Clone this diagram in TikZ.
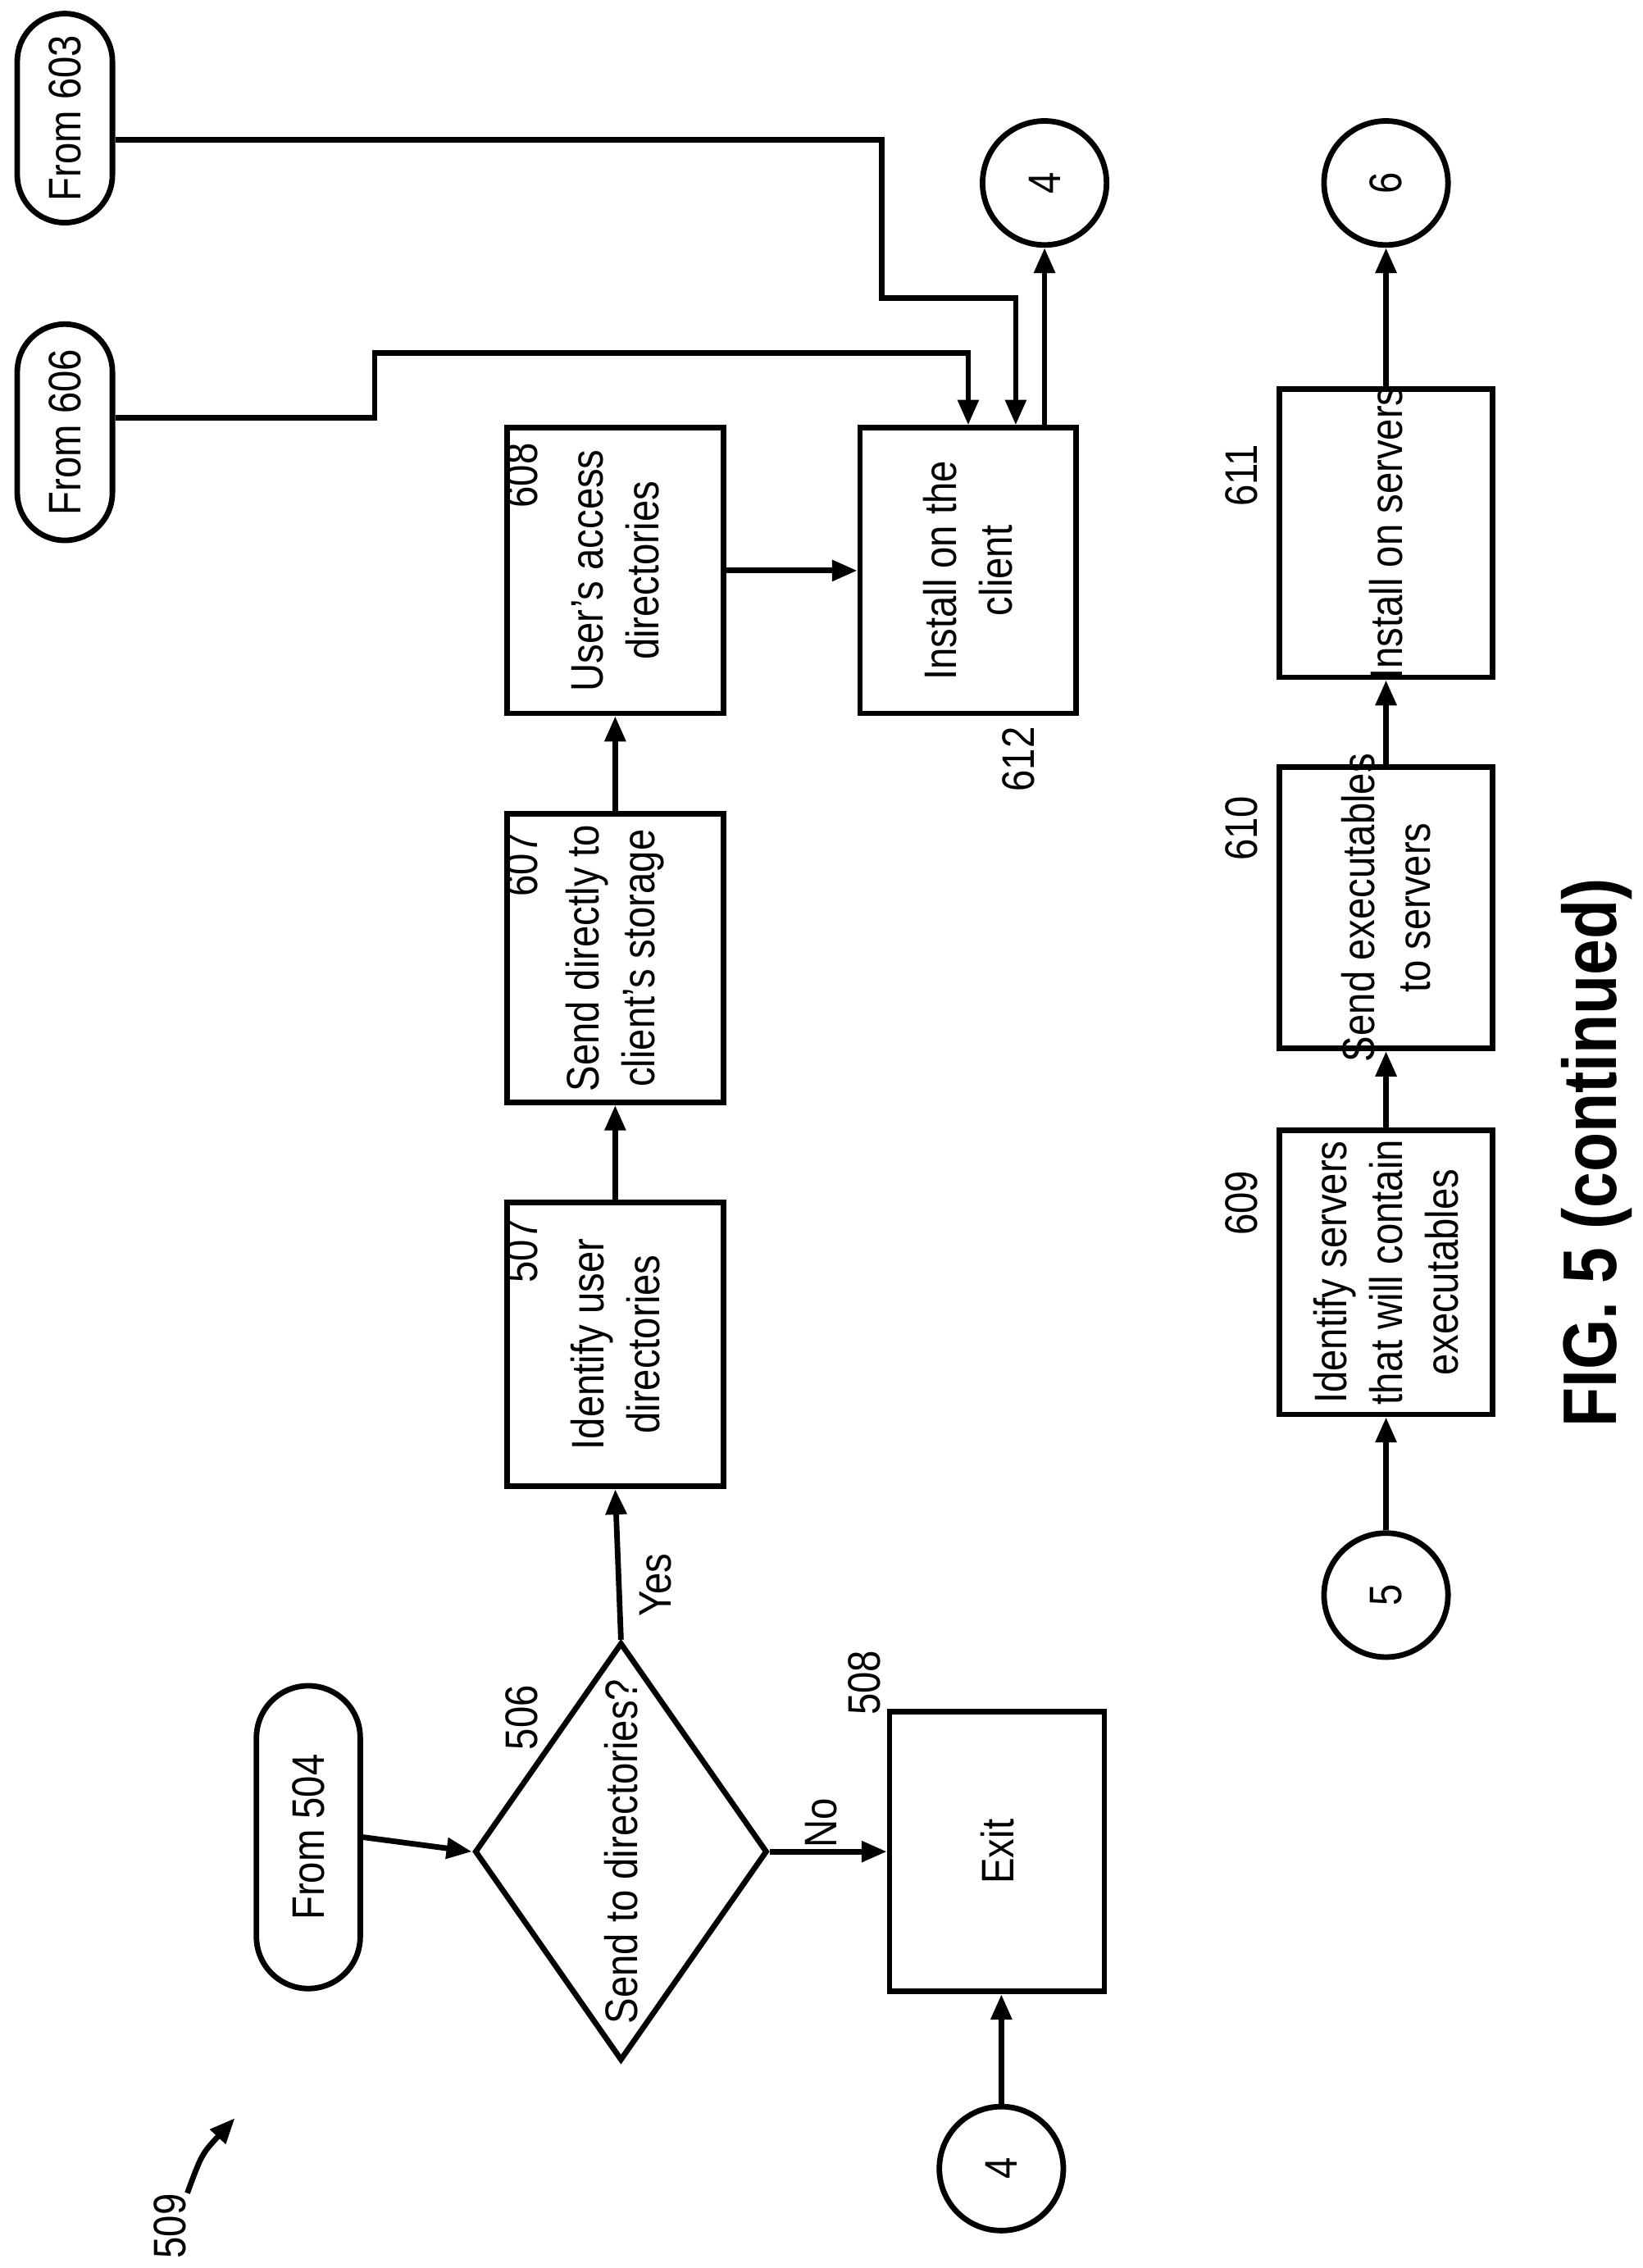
\documentclass[tikz,border=0pt]{standalone}
\usepackage{fontspec}
\setmainfont{Liberation Sans}[FakeStretch=0.85]
\usetikzlibrary{shapes.geometric,arrows.meta}
\begin{document}
\begin{tikzpicture}[x=0.01cm,y=-0.01cm,line width=1.1pt,
  txt/.style={font=\fontsize{9}{11}\selectfont,rotate=90,align=center},
  box/.style={draw,inner sep=0,minimum width=1.5cm,minimum height=1.98cm},
  term/.style={draw,inner sep=0,rounded corners=0.33cm,minimum width=0.66cm},
  circ/.style={draw,circle,inner sep=0,minimum size=0.86cm},
  lab/.style={txt},
  arr/.style={-{Triangle[length=5pt,width=4pt]}}]
\useasboundingbox (0,0) rectangle (1140,1574);
% terminals
\node[term,minimum height=1.45cm] (f603) at (45,82) {};
\node[txt] at (f603) {From 603};
\node[term,minimum height=1.5cm] (f606) at (45,300) {};
\node[txt] at (f606) {From 606};
\node[term,minimum height=2.1cm,minimum width=0.72cm,rounded corners=0.36cm] (f504) at (214,1275) {};
\node[txt] at (f504) {From 504};
% circles
\node[circ] (c4a) at (725,127) {};
\node[txt] at (c4a) {4};
\node[circ] (c6) at (962,127) {};
\node[txt] at (c6) {6};
\node[circ] (c5) at (962,1107) {};
\node[txt] at (c5) {5};
\node[circ] (c4b) at (695,1505) {};
\node[txt] at (c4b) {4};
% boxes
\node[box] (b608) at (427,396) {};
\node[txt] at (b608) {User's access\\directories};
\node[box] (b612) at (672,396) {};
\node[txt] at (b612) {Install on the\\client};
\node[box,minimum height=2cm] (b607) at (427,665) {};
\node[txt] at (b607) {Send directly to\\client's storage};
\node[box,minimum height=1.97cm] (b507) at (427,933) {};
\node[txt] at (b507) {Identify user\\directories};
\node[box,minimum width=1.48cm,minimum height=2cm] (b611) at (962,370) {};
\node[txt] at (b611) {Install on servers};
\node[box,minimum width=1.48cm,minimum height=1.95cm] (b610) at (962,630) {};
\node[txt] at (b610) {Send executables\\to servers};
\node[box,minimum width=1.48cm,minimum height=1.97cm] (b609) at (962,883) {};
\node[txt] at (b609) {Identify servers\\that will contain\\executables};
\node[box,minimum width=1.49cm,minimum height=1.94cm] (b508) at (692,1285) {};
\node[txt] at (b508) {Exit};
\node[draw,diamond,inner sep=0,minimum width=2.03cm,minimum height=2.9cm] (d506) at (431,1285) {};
\node[txt] at (431,1285) {Send to directories?};
% labels
\node[lab] at (362,330) {608};
\node[lab] at (707,527) {612};
\node[lab] at (362,600) {607};
\node[lab] at (362,868) {507};
\node[lab] at (862,330) {611};
\node[lab] at (862,575) {610};
\node[lab] at (862,835) {609};
\node[lab] at (362,1192) {506};
\node[lab] at (600,1168) {508};
\node[lab] at (455,1100) {Yes};
\node[lab] at (570,1265) {No};
\node[lab] (l509) at (118,1545) {509};
\draw[arr] (130,1522) .. controls (140,1495) .. (163,1470);
\node[rotate=90,font=\bfseries\fontsize{15}{18}\selectfont] (fig) at (1108,800) {FIG. 5 (continued)};
% connectors
\draw[arr] (f504.east) -- (d506.west);
\draw[arr] (d506.east) -- (b508.west);
\draw[arr] (d506.north) -- (b507.south);
\draw[arr] (b507.north) -- (b607.south);
\draw[arr] (b607.north) -- (b608.south);
\draw[arr] (b608.east) -- (b612.west);
\draw[arr] (f606.east |- 0,290) -- (260,290) -- (260,245) -- (672,245) -- (b612.north -| 672,0);
\draw[arr] (f603.east |- 0,97) -- (612,97) -- (612,207) -- (705,207) -- (b612.north -| 705,0);
\draw[arr] (b612.north -| 725,0) -- (c4a.south);
\draw[arr] (c4b.north) -- (b508.south -| c4b);
\draw[arr] (c5.north) -- (b609.south);
\draw[arr] (b609.north) -- (b610.south);
\draw[arr] (b610.north) -- (b611.south);
\draw[arr] (b611.north) -- (c6.south);
\end{tikzpicture}
\end{document}
